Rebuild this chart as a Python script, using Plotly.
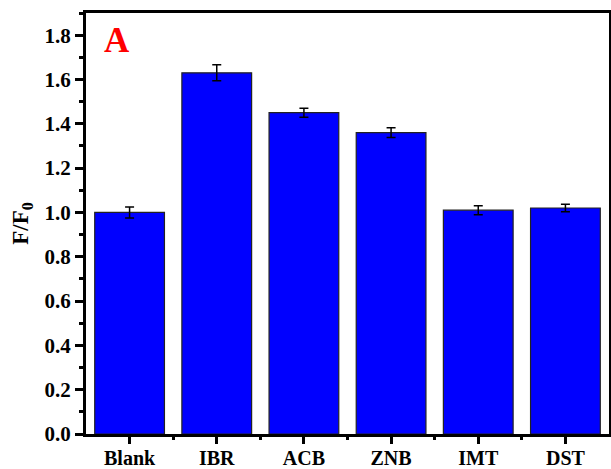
import plotly.graph_objects as go

# Relative fluorescence (F/F0) per sample with standard deviations
categories = ["Blank", "IBR", "ACB", "ZNB", "IMT", "DST"]
ratio = [1.00, 1.63, 1.45, 1.36, 1.01, 1.02]
ratio_err = [0.025, 0.036, 0.02, 0.022, 0.02, 0.017]

positions = list(range(len(categories)))
boundaries = [p + 0.5 for p in positions[:-1]]

FONT = "Liberation Serif"

fig = go.Figure(
    go.Bar(
        x=positions,
        y=ratio,
        width=0.8,
        marker=dict(color="#0000FF", line=dict(color="#222222", width=1.2)),
        error_y=dict(type="data", array=ratio_err, visible=True,
                     color="black", thickness=1.5, width=4.5),
    )
)

fig.update_layout(
    width=611, height=469,
    margin=dict(l=86, r=2, t=13, b=35),
    plot_bgcolor="white", paper_bgcolor="white",
    showlegend=False,
    font=dict(family=FONT, size=20, color="black", weight="bold"),
)

fig.update_xaxes(
    range=[-0.5, len(categories) - 0.5],
    tickmode="array", tickvals=positions, ticktext=categories,
    ticks="outside", ticklen=7, tickwidth=2.5, tickcolor="black",
    minor=dict(tickmode="array", tickvals=boundaries, ticks="outside",
               ticklen=3, tickwidth=2.5, tickcolor="black"),
    showline=True, linewidth=3, linecolor="black", mirror=True,
    showgrid=False, zeroline=False, automargin=False,
    ticklabelstandoff=-3,
    tickfont=dict(family=FONT, size=20, weight="bold"),
)

fig.update_yaxes(
    range=[0, 1.9],
    tickmode="linear", tick0=0, dtick=0.2, tickformat=".1f",
    ticks="outside", ticklen=8, tickwidth=2.5, tickcolor="black",
    minor=dict(dtick=0.1, ticks="outside", ticklen=4, tickwidth=2.5,
               tickcolor="black"),
    showline=True, linewidth=3, linecolor="black", mirror=True,
    showgrid=False, zeroline=False, automargin=False,
    tickfont=dict(family=FONT, size=21, weight="bold"),
    title=dict(text="F/F<sub>0</sub>", standoff=10,
               font=dict(family=FONT, size=23, weight="bold")),
)

fig.add_annotation(
    text="A", xref="paper", yref="paper", x=0.03, y=0.985,
    xanchor="left", yanchor="top", showarrow=False,
    font=dict(family=FONT, size=35, color="red", weight="bold"),
)

fig.write_html("out.html")
